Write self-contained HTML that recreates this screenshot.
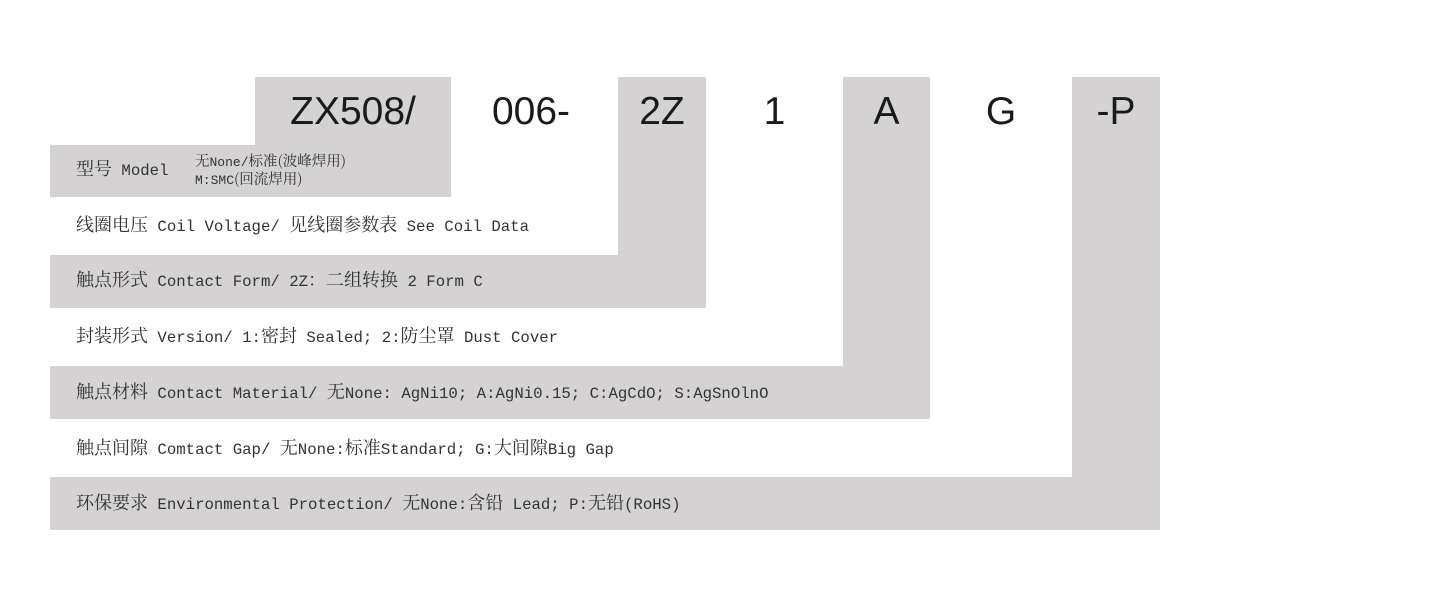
<!DOCTYPE html>
<html><head><meta charset="utf-8"><style>
body{margin:0;width:1440px;height:600px;background:#fff;position:relative;overflow:hidden}
.g{position:absolute;background:#d4d2d3}
.h{position:absolute;top:90px;height:50px;line-height:50px;font:39px "Liberation Sans",sans-serif;color:#1a1a1a;text-align:center}
.t{position:absolute;left:76px;font:15.7px "Liberation Mono","Noto Serif CJK SC",monospace;color:#333;white-space:nowrap;line-height:20px}
.t i{font-style:normal;font-size:18px;font-family:"Noto Serif CJK SC",serif}
.s{position:absolute;left:195px;font:13px "Liberation Mono","Noto Serif CJK SC",monospace;color:#333;white-space:nowrap;line-height:16px}
.s i{font-style:normal;font-size:14.5px;font-family:"Noto Serif CJK SC",serif}
</style></head><body>
<div class="g" style="left:255px;top:77px;width:196px;height:120px"></div>
<div class="g" style="left:50px;top:145px;width:401px;height:52px"></div>
<div class="g" style="left:618px;top:77px;width:88px;height:231px"></div>
<div class="g" style="left:50px;top:255px;width:656px;height:53px"></div>
<div class="g" style="left:843px;top:77px;width:87px;height:342px"></div>
<div class="g" style="left:50px;top:366px;width:880px;height:53px"></div>
<div class="g" style="left:1072px;top:77px;width:88px;height:453px"></div>
<div class="g" style="left:50px;top:477px;width:1110px;height:53px"></div>

<div class="h" style="left:255px;width:196px">ZX508/</div>
<div class="h" style="left:451px;width:160px">006-</div>
<div class="h" style="left:618px;width:88px">2Z</div>
<div class="h" style="left:706px;width:137px">1</div>
<div class="h" style="left:843px;width:87px">A</div>
<div class="h" style="left:930px;width:142px">G</div>
<div class="h" style="left:1072px;width:88px">-P</div>

<div class="t" style="top:158px"><i>型号</i> Model</div>
<div class="s" style="top:153px"><i>无</i>None/<i>标准(波峰焊用)</i></div>
<div class="s" style="top:171px">M:SMC<i>(回流焊用)</i></div>
<div class="t" style="top:214px"><i>线圈电压</i> Coil Voltage/ <i>见线圈参数表</i> See Coil Data</div>
<div class="t" style="top:269px"><i>触点形式</i> Contact Form/ 2Z<i>：二组转换</i> 2 Form C</div>
<div class="t" style="top:325px"><i>封装形式</i> Version/ 1:<i>密封</i> Sealed; 2:<i>防尘罩</i> Dust Cover</div>
<div class="t" style="top:381px"><i>触点材料</i> Contact Material/ <i>无</i>None: AgNi10; A:AgNi0.15; C:AgCdO; S:AgSnOlnO</div>
<div class="t" style="top:437px"><i>触点间隙</i> Comtact Gap/ <i>无</i>None:<i>标准</i>Standard; G:<i>大间隙</i>Big Gap</div>
<div class="t" style="top:492px"><i>环保要求</i> Environmental Protection/ <i>无</i>None:<i>含铅</i> Lead; P:<i>无铅</i>(RoHS)</div>
</body></html>
